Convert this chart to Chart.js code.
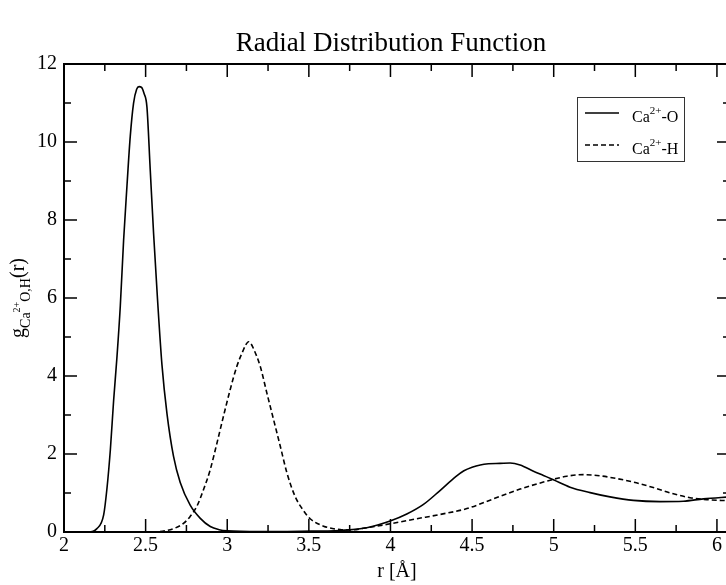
<!DOCTYPE html>
<html>
<head>
<meta charset="utf-8">
<script src="https://cdn.jsdelivr.net/npm/chart.js@4.4.0/dist/chart.umd.min.js"></script>
<style>
html, body { margin: 0; padding: 0; background: #fff; overflow: hidden; }
#wrap { width: 740px; height: 585px; }
</style>
</head>
<body>
<div id="wrap"><canvas id="rdf" width="740" height="585"></canvas></div>
<script>
// Ca2+-O, solid line
const rCaO = [2.00, 2.15, 2.20, 2.243, 2.263, 2.284, 2.304, 2.324, 2.345, 2.365, 2.386, 2.406, 2.426, 2.445, 2.460, 2.475,
  2.490, 2.508, 2.528, 2.549, 2.573, 2.600, 2.631, 2.671, 2.712, 2.773, 2.835, 2.896, 2.95, 3.0, 3.2, 3.45, 3.69, 3.855,
  3.998, 4.10, 4.20, 4.30, 4.40, 4.45, 4.50, 4.55, 4.60, 4.671, 4.733, 4.794, 4.876, 4.937, 4.998, 5.100, 5.223, 5.345, 5.488,
  5.652, 5.794, 5.917, 6.08];
const gCaO = [0, 0, 0.08, 0.44, 1.11, 2.11, 3.37, 4.46, 5.80, 7.47, 8.89, 10.15, 10.99, 11.35, 11.42, 11.40,
  11.25, 10.9, 9.31, 7.64, 5.96, 4.29, 3.03, 1.94, 1.27, 0.69, 0.35, 0.14, 0.06, 0.03, 0.01, 0.02, 0.04, 0.11,
  0.28, 0.46, 0.70, 1.05, 1.42, 1.57, 1.66, 1.72, 1.75, 1.76, 1.77, 1.72, 1.56, 1.45, 1.34, 1.15, 1.01, 0.90, 0.81,
  0.78, 0.79, 0.85, 0.90];

// Ca2+-H, dashed line
const rCaH = [2.00, 2.55, 2.62, 2.68, 2.732, 2.773, 2.814, 2.855, 2.896, 2.937, 2.977, 3.018, 3.059, 3.100, 3.115, 3.13, 3.145, 3.161,
  3.202, 3.243, 3.284, 3.325, 3.366, 3.416, 3.467, 3.508, 3.590, 3.692, 3.75, 3.855, 3.998, 4.162, 4.304, 4.468, 4.631,
  4.794, 4.937, 5.080, 5.182, 5.284, 5.386, 5.488, 5.610, 5.733, 5.835, 5.937, 6.08];
const gCaH = [0, 0, 0.03, 0.10, 0.22, 0.40, 0.66, 1.09, 1.60, 2.28, 2.97, 3.65, 4.25, 4.68, 4.81, 4.88, 4.83, 4.70,
  4.25, 3.56, 2.88, 2.20, 1.51, 0.91, 0.55, 0.34, 0.15, 0.06, 0.05, 0.11, 0.21, 0.34, 0.45, 0.60, 0.85,
  1.10, 1.28, 1.43, 1.47, 1.44, 1.37, 1.28, 1.14, 0.98, 0.88, 0.83, 0.80];

const xMajor = [2, 2.5, 3, 3.5, 4, 4.5, 5, 5.5, 6];
const xMinor = [2.25, 2.75, 3.25, 3.75, 4.25, 4.75, 5.25, 5.75];
const yMajor = [0, 2, 4, 6, 8, 10, 12];
const yMinor = [1, 3, 5, 7, 9, 11];

const serif = "'Liberation Serif', 'Times New Roman', serif";

function pts(xs, ys) {
  return xs.map((v, i) => ({ x: v, y: ys[i] }));
}

// draws a row of text pieces: [text, size, baseline shift]
function drawPieces(ctx, pieces, x, y) {
  pieces.forEach(p => {
    ctx.font = p[1] + 'px ' + serif;
    ctx.fillText(p[0], x, y + p[2]);
    x += ctx.measureText(p[0]).width;
  });
  return x;
}
function piecesWidth(ctx, pieces) {
  let w = 0;
  pieces.forEach(p => { ctx.font = p[1] + 'px ' + serif; w += ctx.measureText(p[0]).width; });
  return w;
}

const decorations = {
  id: 'decorations',
  afterDatasetsDraw(chart) {
    const { ctx, chartArea: a, scales: { x, y } } = chart;
    ctx.save();
    ctx.strokeStyle = '#000';
    ctx.fillStyle = '#000';

    // frame
    ctx.lineWidth = 2;
    ctx.strokeRect(a.left, a.top, a.right - a.left, a.bottom - a.top);

    // inward ticks on all four sides
    ctx.lineWidth = 1.5;
    ctx.beginPath();
    const tickX = (v, len) => {
      const px = x.getPixelForValue(v);
      ctx.moveTo(px, a.bottom); ctx.lineTo(px, a.bottom - len);
      ctx.moveTo(px, a.top); ctx.lineTo(px, a.top + len);
    };
    const tickY = (v, len) => {
      const py = y.getPixelForValue(v);
      ctx.moveTo(a.left, py); ctx.lineTo(a.left + len, py);
      ctx.moveTo(a.right, py); ctx.lineTo(a.right - len, py);
    };
    xMajor.forEach(v => tickX(v, 13));
    xMinor.forEach(v => tickX(v, 7));
    yMajor.forEach(v => tickY(v, 13));
    yMinor.forEach(v => tickY(v, 7));
    ctx.stroke();

    // title
    ctx.font = '27px ' + serif;
    ctx.textAlign = 'center';
    ctx.textBaseline = 'alphabetic';
    ctx.fillText('Radial Distribution Function', 391, 51);

    // y axis title, rotated
    ctx.textAlign = 'left';
    const yTitle = [['g', 20, 0], ['Ca', 14, 6], ['2+', 10, -4], ['O,H', 14, 6], ['(r)', 20, 0]];
    const w = piecesWidth(ctx, yTitle);
    ctx.save();
    ctx.translate(24, (a.top + a.bottom) / 2);
    ctx.rotate(-Math.PI / 2);
    drawPieces(ctx, yTitle, -w / 2, 0);
    ctx.restore();

    // legend box
    ctx.lineWidth = 1;
    ctx.strokeStyle = '#333';
    ctx.strokeRect(577.5, 97.5, 107, 64);
    ctx.strokeStyle = '#000';
    ctx.lineWidth = 1.6;
    ctx.beginPath();
    ctx.moveTo(585, 113); ctx.lineTo(619, 113);
    ctx.stroke();
    ctx.setLineDash([5, 3]);
    ctx.beginPath();
    ctx.moveTo(585, 145); ctx.lineTo(619, 145);
    ctx.stroke();
    ctx.setLineDash([]);
    drawPieces(ctx, [['Ca', 16, 0], ['2+', 11, -8], ['-O', 16, 0]], 632, 122);
    drawPieces(ctx, [['Ca', 16, 0], ['2+', 11, -8], ['-H', 16, 0]], 632, 154);
    ctx.restore();
  }
};

new Chart(document.getElementById('rdf'), {
  type: 'line',
  data: {
    datasets: [{
      label: 'Ca2+-O',
      data: pts(rCaO, gCaO),
      borderColor: '#000',
      borderWidth: 1.6,
      pointRadius: 0,
      cubicInterpolationMode: 'monotone',
      fill: false
    }, {
      label: 'Ca2+-H',
      data: pts(rCaH, gCaH),
      borderColor: '#000',
      borderWidth: 1.6,
      borderDash: [5, 3],
      pointRadius: 0,
      cubicInterpolationMode: 'monotone',
      fill: false
    }]
  },
  options: {
    responsive: false,
    animation: false,
    layout: { padding: { top: 64, right: 10, left: 0, bottom: 0 } },
    plugins: {
      legend: { display: false },
      title: { display: false },
      tooltip: { enabled: false }
    },
    scales: {
      x: {
        type: 'linear',
        min: 2,
        max: 6.08,
        afterFit: s => { s.height = 53; },
        afterBuildTicks: s => { s.ticks = xMajor.map(v => ({ value: v })); },
        grid: { display: false, drawTicks: false },
        border: { display: false },
        ticks: {
          color: '#000',
          padding: 2,
          maxRotation: 0,
          autoSkip: false,
          font: { family: serif, size: 20 },
          callback: v => String(v)
        },
        title: {
          display: true,
          text: 'r [Å]',
          color: '#000',
          padding: 1,
          font: { family: serif, size: 20 }
        }
      },
      y: {
        min: 0,
        max: 12,
        afterFit: s => { s.width = 64; },
        afterBuildTicks: s => { s.ticks = yMajor.map(v => ({ value: v })); },
        grid: { display: false, drawTicks: false },
        border: { display: false },
        ticks: {
          color: '#000',
          padding: 7,
          font: { family: serif, size: 20 },
          callback: v => String(v)
        }
      }
    }
  },
  plugins: [decorations]
});
</script>
</body>
</html>
